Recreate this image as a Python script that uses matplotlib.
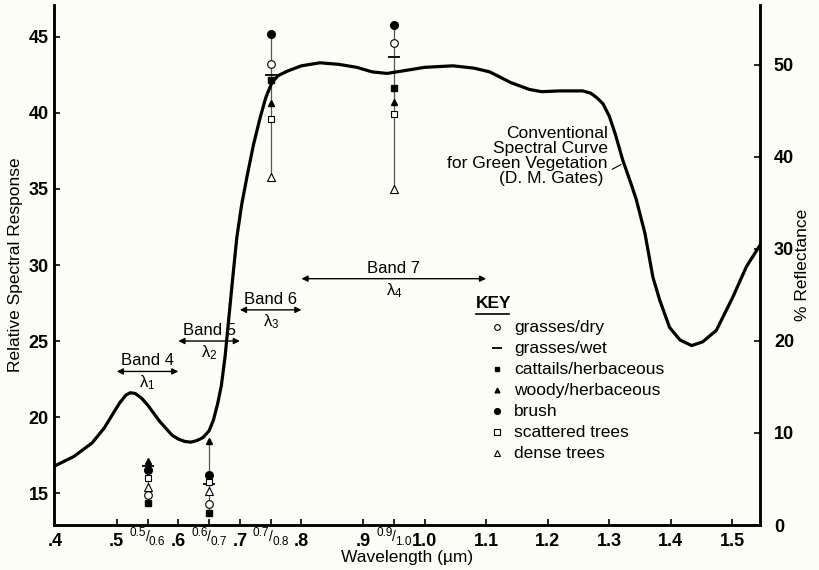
import numpy as np
import matplotlib
matplotlib.use('Agg')
import matplotlib.pyplot as plt

plt.rcParams['font.family'] = ['Liberation Sans', 'DejaVu Sans']
plt.rcParams['mathtext.fontset'] = 'custom'
plt.rcParams['mathtext.rm'] = 'Liberation Sans'
plt.rcParams['mathtext.it'] = 'Liberation Sans'
plt.rcParams['mathtext.bf'] = 'Liberation Sans:bold'

# Conventional spectral curve for green vegetation
curve_wl = [0.40, 0.43, 0.46, 0.48, 0.495, 0.505, 0.515, 0.522, 0.53, 0.54,
            0.55, 0.57, 0.59, 0.60, 0.61, 0.62, 0.63, 0.64, 0.65, 0.657,
            0.664, 0.67, 0.676, 0.682, 0.688, 0.695, 0.703, 0.712, 0.722, 0.733,
            0.742, 0.752, 0.762, 0.777, 0.80, 0.83, 0.86, 0.89, 0.915, 0.939,
            0.97, 1.00, 1.046, 1.08, 1.106, 1.14, 1.17, 1.19, 1.22, 1.257,
            1.27, 1.28, 1.29, 1.30, 1.31, 1.322, 1.335, 1.344, 1.358, 1.371,
            1.382, 1.398, 1.415, 1.434, 1.452, 1.474, 1.501, 1.523, 1.545]
curve_resp = [16.8, 17.4, 18.3, 19.3, 20.3, 20.95, 21.45, 21.6, 21.55, 21.25,
              20.8, 19.7, 18.8, 18.55, 18.4, 18.35, 18.45, 18.65, 19.1, 19.8,
              20.9, 22.1, 24.0, 26.5, 29.0, 31.8, 34.0, 35.9, 37.9, 39.7,
              41.0, 42.0, 42.45, 42.75, 43.1, 43.3, 43.2, 43.0, 42.7, 42.6,
              42.8, 43.0, 43.1, 42.95, 42.7, 42.0, 41.55, 41.4, 41.45, 41.45,
              41.3, 41.0, 40.6, 39.8, 38.6, 36.9, 35.4, 34.3, 32.1, 29.2,
              27.7, 25.9, 25.07, 24.7, 24.95, 25.7, 27.9, 29.9, 31.3]

# Measured responses at band centres
col_wl = [0.55, 0.65, 0.75, 0.95]
col_top = ['0.5', '0.6', '0.7', '0.9']
col_bot = ['0.6', '0.7', '0.8', '1.0']
dry = [14.85, 14.25, 43.2, 44.6]
wet = [16.8, 15.6, 42.5, 43.7]
cattails = [14.35, 13.7, 42.15, 41.65]
woody = [17.1, 18.45, 40.65, 40.7]
brush = [16.5, 16.2, 45.2, 45.8]
scattered = [16.0, 15.75, 39.6, 39.95]
dense = [15.4, 15.15, 35.8, 35.0]

# MSS bands
band_names = ['Band 4', 'Band 5', 'Band 6', 'Band 7']
band_lo = [0.5, 0.6, 0.7, 0.8]
band_hi = [0.6, 0.7, 0.8, 1.1]
band_y = [23.0, 25.0, 27.05, 29.1]
band_lambda = [r'$\lambda_1$', r'$\lambda_2$', r'$\lambda_3$', r'$\lambda_4$']

x_ticks = [0.4, 0.5, 0.6, 0.7, 0.8, 0.9, 1.0, 1.1, 1.2, 1.3, 1.4, 1.5]
x_labels = ['.4', '.5', '.6', '.7', '.8', '.9', '1.0', '1.1', '1.2', '1.3', '1.4', '1.5']

bg = '#fdfdf8'
fig = plt.figure(figsize=(8.19, 5.70), dpi=100, facecolor=bg)
ax = fig.add_axes([54 / 819, 45 / 570, 706 / 819, 520 / 570])
ax.set_facecolor(bg)

ax.plot(curve_wl, curve_resp, color='black', lw=2.3, solid_joinstyle='round', zorder=3)

# vertical range lines
series = [dry, wet, cattails, woody, brush, scattered, dense]
for i, x in enumerate(col_wl):
    vals = [s[i] for s in series]
    ax.plot([x, x], [min(vals), max(vals)], color='#555555', lw=0.9, zorder=2)

styles = [
    ('grasses/dry', dry, dict(marker='o', ms=5.5, mfc='white', mec='black', mew=0.8)),
    ('grasses/wet', wet, dict(marker='_', ms=9, mec='black', mew=1.3)),
    ('cattails/herbaceous', cattails, dict(marker='s', ms=4.2, mfc='black', mec='black')),
    ('woody/herbaceous', woody, dict(marker='^', ms=4.5, mfc='black', mec='black')),
    ('brush', brush, dict(marker='o', ms=5.5, mfc='black', mec='black')),
    ('scattered trees', scattered, dict(marker='s', ms=5, mfc='white', mec='black', mew=0.8)),
    ('dense trees', dense, dict(marker='^', ms=5.5, mfc='white', mec='black', mew=0.8)),
]
for name, vals, st in styles:
    ax.plot(col_wl, vals, ls='none', zorder=4, **st)

# band arrows
for name, lo, hi, y, lam in zip(band_names, band_lo, band_hi, band_y, band_lambda):
    ax.annotate('', xy=(hi, y), xytext=(lo, y),
                arrowprops=dict(arrowstyle='<|-|>', color='black', lw=1.0,
                                mutation_scale=9, shrinkA=0, shrinkB=0))
    mid = (lo + hi) / 2
    ax.text(mid, y + 0.2, name, ha='center', va='bottom', fontsize=12)
    ax.text(mid, y - 0.15, lam, ha='center', va='top', fontsize=12)

# key
ax.text(1.083, 27.5, 'KEY', fontsize=12.5, fontweight='bold', va='center', ha='left')
ax.plot([1.083, 1.138], [26.75, 26.75], color='black', lw=1.2)
for k, (name, vals, st) in enumerate(styles):
    yk = 25.9 - k * 1.38
    st2 = dict(st)
    st2['ms'] = st2['ms'] * 0.75
    ax.plot([1.118], [yk], ls='none', **st2)
    ax.text(1.146, yk, name, fontsize=12.5, va='center', ha='left')

# curve annotation
ax.text(1.298, 37.2, 'Conventional\nSpectral Curve\nfor Green Vegetation\n(D. M. Gates) ',
        ha='right', va='center', fontsize=12.5, linespacing=1.0, multialignment='right')
ax.plot([1.305, 1.319], [36.3, 36.6], color='black', lw=0.8)

ax.set_xlim(0.398, 1.545)
ax.set_ylim(12.9, 47.1)
ax.set_xticks(x_ticks)
ax.set_xticklabels(x_labels, fontweight='bold', fontsize=13)
ax.set_xticks(col_wl, minor=True)
ax.set_yticks([15, 20, 25, 30, 35, 40, 45])
ax.set_yticklabels(['15', '20', '25', '30', '35', '40', '45'], fontweight='bold', fontsize=13)
ax.tick_params(axis='both', which='both', direction='in', length=4, width=1.2, pad=4)
ax.tick_params(axis='x', which='major', pad=6)
ax.spines['top'].set_visible(False)
for sp in ['left', 'bottom', 'right']:
    ax.spines[sp].set_linewidth(1.8)

# column sub-labels under the axis
for x, a, b in zip(col_wl, col_top, col_bot):
    ax.annotate(a, xy=(x, 0), xycoords=('data', 'axes fraction'), xytext=(-1, -5.5),
                textcoords='offset points', ha='right', va='center', fontsize=8.5)
    ax.annotate('/', xy=(x, 0), xycoords=('data', 'axes fraction'), xytext=(0, -8.5),
                textcoords='offset points', ha='center', va='center', fontsize=10)
    ax.annotate(b, xy=(x, 0), xycoords=('data', 'axes fraction'), xytext=(1, -12),
                textcoords='offset points', ha='left', va='center', fontsize=8.5)

ax.set_xlabel('Wavelength (µm)', fontsize=12.5, labelpad=0)
ax.set_ylabel('Relative Spectral Response', fontsize=12.5, labelpad=4)

ax2 = ax.twinx()
ax2.set_ylim(0, 56.5)
ax2.set_yticks([0, 10, 20, 30, 40, 50])
ax2.set_yticklabels(['0', '10', '20', '30', '40', '50'], fontweight='bold', fontsize=13)
ax2.tick_params(axis='y', direction='in', length=4, width=1.2, pad=10)
ax2.spines['top'].set_visible(False)
for sp in ['left', 'bottom', 'right']:
    ax2.spines[sp].set_linewidth(1.8)
ax2.set_ylabel('% Reflectance', fontsize=12.5, labelpad=1)

fig.savefig('out.png', dpi=100, facecolor=bg)
